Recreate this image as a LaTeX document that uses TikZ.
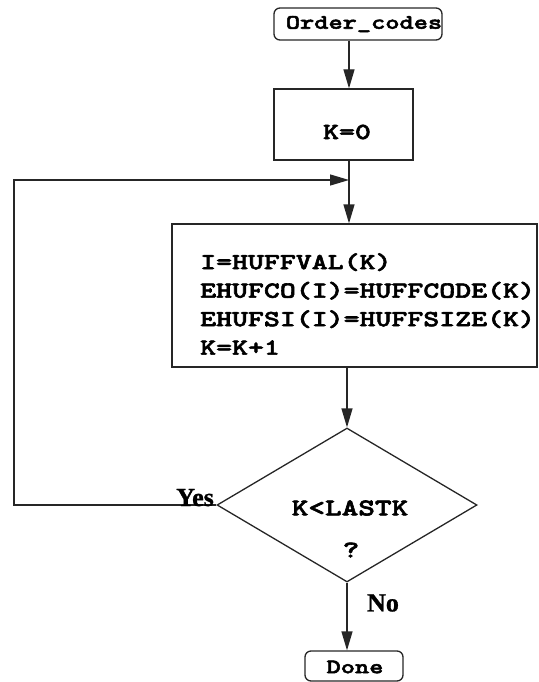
\documentclass[tikz,border=0pt]{standalone}
\usepackage{fontspec}
\usetikzlibrary{arrows.meta,shapes.geometric}
\newfontfamily\codefont[FakeStretch=1.32,FakeBold=2.5]{lmmonolt10-bold.otf}
\newfontfamily\lblfont[FakeBold=1]{Liberation Serif}
\tikzset{
  ln/.style={line width=1.3pt, draw=black!85},
  arr/.style={ln, -{Triangle[length=19pt,width=11pt]}},
  box/.style={ln, rectangle, inner sep=0pt},
  rbox/.style={ln, rectangle, rounded corners=6pt, inner sep=0pt},
  codeL/.style={inner sep=0pt, font=\codefont\fontsize{23}{28.5}\selectfont},
  codeM/.style={inner sep=0pt, font=\codefont\fontsize{24}{26}\selectfont},
  codeS/.style={inner sep=0pt, font=\codefont\fontsize{20.5}{22}\selectfont},
  lbl/.style={inner sep=0pt, font=\lblfont\bfseries\fontsize{26}{28}\selectfont},
}
\begin{document}
\begin{tikzpicture}[x=1pt,y=-1pt]
\useasboundingbox (0,0) rectangle (538,682);
% column reference
\coordinate (col) at (349,0);
\coordinate (colB) at (347,0);
% nodes
\node[rbox, minimum width=168pt, minimum height=32pt] (oc) at (358,24) {};
\node[codeS] (octext) at (364,24) {Order\_codes};
\node[box, minimum width=139pt, minimum height=71pt] (k0) at (343.5,124.5) {};
\node[codeL] (k0text) at (347,132) {K=0};
\node[box, minimum width=365pt, minimum height=143pt] (big) at (354.5,295.5) {};
\node[codeL, align=left, anchor=west] (bigtext) at (200,304) {I=HUFFVAL(K)\\EHUFCO(I)=HUFFCODE(K)\\EHUFSI(I)=HUFFSIZE(K)\\K=K+1};
\node[ln, diamond, inner sep=0pt, minimum width=260pt, minimum height=154pt] (d) at (347,505) {};
\node[codeM] (dtext) at (350,508) {K<LASTK};
\node[codeM] (dq) at (351,550) {?};
\node[rbox, minimum width=98pt, minimum height=30pt] (done) at (354,666) {};
\node[codeS] (donetext) at (355,667) {Done};
\coordinate (join) at (349,180);
\coordinate (lc) at (14,180);
% connectors
\draw[arr] (oc.south -| col) -- (k0.north -| col);
\draw[arr] (k0.south -| col) -- (big.north -| col);
\draw[arr] (big.south -| colB) -- (d.north);
\draw[arr] (d.west) -| (lc) -- (join);
\draw[arr] (d.south) -- (done.north -| d.south);
% labels
\node[lbl, anchor=base east] (yes) at (214,506) {Yes};
\node[lbl] (no) at (383,603) {No};
\end{tikzpicture}
\end{document}
